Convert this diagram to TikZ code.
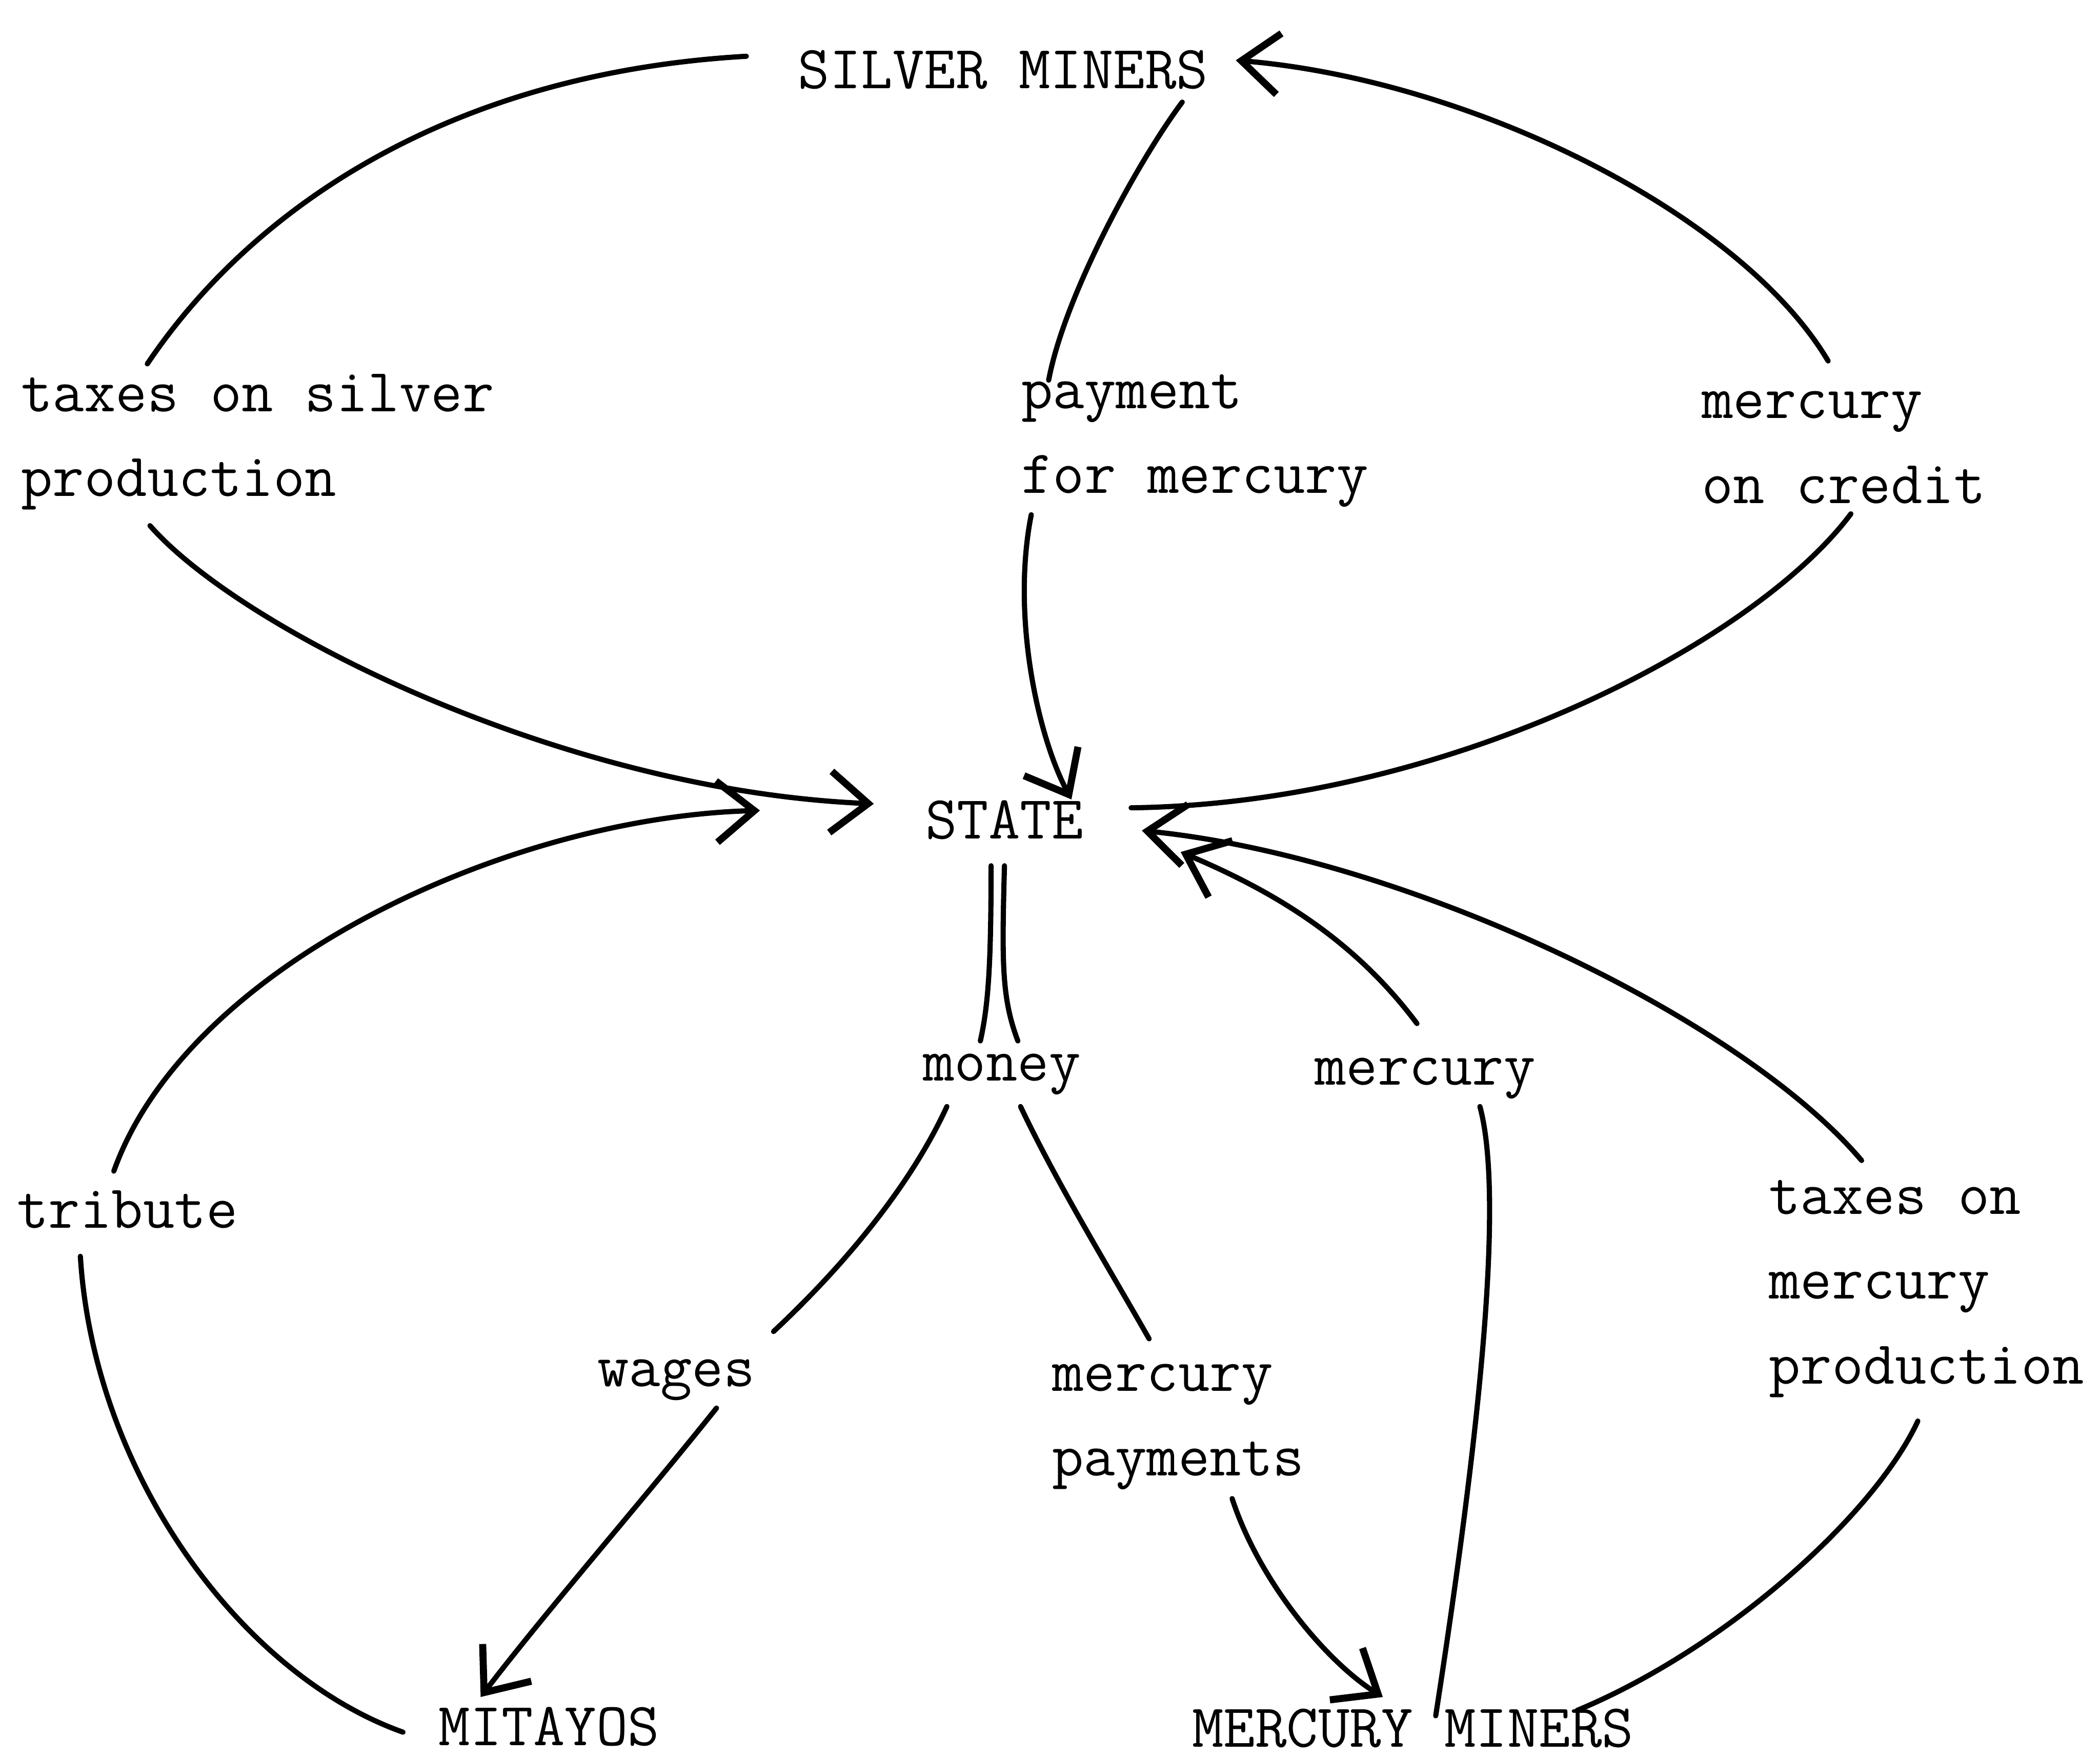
\documentclass[tikz,border=0pt]{standalone}
\usepackage{tikz}
\usetikzlibrary{arrows.meta}
\usetikzlibrary{calc}
\tikzstyle{word} = [font=\ttfamily\fontsize{13}{18}\selectfont, inner sep=0pt]
\tikzstyle{flowtext} = [word, align=left, anchor=west]
\tikzstyle{hand} = [line width=1.1pt, line cap=round]
\tikzstyle{arrow} = [hand, -{Straight Barb[length=8pt,width=13pt,line width=1.5pt]}]

\begin{document}
\begin{tikzpicture}[x=0.01cm,y=-0.01cm]
					\useasboundingbox (0,0) rectangle (1568,1312);
					
					%Nodes
					\node[word] (sm) at (749,52) {SILVER MINERS};
					\node[word] (st) at (750,612) {STATE};
					\node[word] (mit) at (410,1289) {MITAYOS};
					\node[word] (mm) at (1055,1290) {MERCURY MINERS};
					
					\node[flowtext] (taxS) at (15,330) {taxes on silver\\production};
					\node[flowtext] (pay) at (762,329) {payment\\for mercury};
					\node[flowtext] (cred) at (1270,334) {mercury\\on credit};
					\node[word, anchor=west] (trib) at (12,903) {tribute};
					\node[word] (money) at (748,802) {money};
					\node[word] (merc) at (1064,805) {mercury};
					\node[word] (wages) at (505,1030) {wages};
					\node[flowtext] (mpay) at (785,1065) {mercury\\payments};
					\node[flowtext] (taxM) at (1320,962) {taxes on\\mercury\\production};
					
					%Lines
					\draw[hand] ($(sm.west)+(-38,-10)$) .. controls (330,55) and (185,160) .. ($(taxS.north west)+(95,-7)$);
					\draw[arrow] ($(taxS.south west)+(97,11)$) .. controls (180,470) and (420,590) .. ($(st.west)+(-38,-12)$);
					\draw[hand] ($(mit.west)+(-26,4)$) .. controls (180,1250) and (70,1100) .. ($(trib.south west)+(48,20)$);
					\draw[arrow] ($(trib.north west)+(73,-14)$) .. controls (140,720) and (380,610) .. ($(st.west)+(-123,-7)$);
					\draw[hand] ($(sm.south east)+(-20,9)$) .. controls (850,120) and (795,220) .. ($(pay.north west)+(21,5)$);
					\draw[arrow] ($(pay.south west)+(8,5)$) .. controls (755,460) and (775,550) .. ($(st.north)+(50,0)$);
					\draw[hand] ($(st.east)+(35,-9)$) .. controls (1080,600) and (1310,480) .. ($(cred.south west)+(112,7)$);
					\draw[arrow] ($(cred.north west)+(95,-22)$) .. controls (1300,160) and (1100,60) .. ($(sm.east)+(20,-7)$);
					\draw[hand] ($(mm.north east)+(-43,2)$) .. controls (1290,1230) and (1400,1130) .. ($(taxM.south west)+(112,17)$);
					\draw[arrow] ($(taxM.north west)+(70,-14)$) .. controls (1300,760) and (1050,640) .. ($(st.east)+(43,8)$);
					\draw[hand] ($(mm.north)+(17,6)$) .. controls (1100,1100) and (1125,900) .. ($(merc.south)+(41,5)$);
					\draw[arrow] ($(merc.north)+(-6,-25)$) .. controls (1010,700) and (950,665) .. ($(st.east)+(72,24)$);
					\draw[hand] ($(st.south)+(-10,19)$) .. controls (740,720) and (738,750) .. ($(money.north)+(-16,-9)$);
					\draw[hand] ($(st.south)+(0,19)$) .. controls (748,720) and (748,745) .. ($(money.north)+(12,-9)$);
					\draw[hand] ($(money.south)+(-41,8)$) .. controls (680,885) and (630,945) .. ($(wages.north east)+(13,-20)$);
					\draw[arrow] ($(wages.south)+(30,5)$) .. controls (480,1120) and (410,1200) .. ($(mit.north west)+(32,-7)$);
					\draw[hand] ($(money.south)+(14,8)$) .. controls (790,885) and (830,950) .. ($(mpay.north west)+(73,-18)$);
					\draw[arrow] ($(mpay.south west)+(135,6)$) .. controls (940,1180) and (990,1240) .. ($(mm.north west)+(143,-8)$);
				\end{tikzpicture}
\end{document}
